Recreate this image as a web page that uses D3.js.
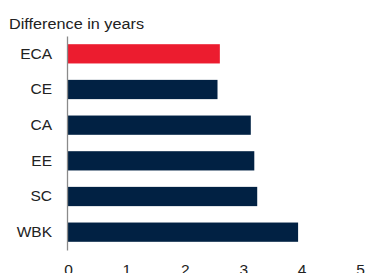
<!DOCTYPE html>
<html>
<head>
<meta charset="utf-8">
<script src="https://cdn.jsdelivr.net/npm/d3@7"></script>
<style>
  body { margin: 0; background: #fff; }
  svg { display: block; font-family: "Liberation Sans", Arial, sans-serif; }
</style>
</head>
<body>
<div id="chart"></div>
<script>
// data
const regions = ["ECA", "CE", "CA", "EE", "SC", "WBK"];
const diffYears = [2.6, 2.56, 3.13, 3.19, 3.24, 3.94];
const xTicks = [0, 1, 2, 3, 4, 5];

const width = 365,
  height = 273,
  margin = { top: 36, bottom: 23, left: 68, right: 5 };

const svg = d3.select("#chart")
  .append("svg")
  .attr("width", width)
  .attr("height", height);

const xScale = d3.scaleLinear()
  .domain([0, 5])
  .range([margin.left, width - margin.right]);

const yScale = d3.scaleBand()
  .domain(regions)
  .range([margin.top, height - margin.bottom])
  .paddingInner(0.46)
  .paddingOuter(0.23);

// title (squeezed a bit like the original)
svg.append("text")
  .attr("x", 9)
  .attr("y", 28.5)
  .attr("font-size", 15.5)
  .attr("textLength", 135)
  .attr("lengthAdjust", "spacingAndGlyphs")
  .attr("fill", "#222")
  .text("Difference in years");

// bars
svg.selectAll(".bar")
  .data(regions)
  .join("rect")
  .attr("class", "bar")
  .attr("x", xScale(0) - 0.5)
  .attr("y", d => yScale(d))
  .attr("height", yScale.bandwidth())
  .attr("width", (d, i) => xScale(diffYears[i]) - xScale(0) + 0.5)
  .attr("fill", d => d === "ECA" ? "#ec1c2f" : "#012143");

// y axis: just the line and labels
const yAxis = d3.axisLeft(yScale).tickSize(0).tickPadding(15);
const yG = svg.append("g")
  .attr("transform", `translate(${margin.left - 1},0)`)
  .call(yAxis);
yG.select(".domain").attr("stroke", "#8a8a8a").attr("stroke-width", 1.3);
yG.selectAll("text")
  .attr("font-size", 15.5)
  .attr("font-family", "Liberation Sans, Arial, sans-serif")
  .attr("fill", "#222");

// x axis labels, no line
const xAxis = d3.axisBottom(xScale)
  .tickValues(xTicks)
  .tickFormat(d3.format("d"))
  .tickSize(0)
  .tickPadding(14);
const xG = svg.append("g")
  .attr("transform", `translate(0,${height - margin.bottom})`)
  .call(xAxis);
xG.select(".domain").remove();
xG.selectAll("text")
  .attr("font-size", 15.5)
  .attr("font-family", "Liberation Sans, Arial, sans-serif")
  .attr("fill", "#222");
</script>
</body>
</html>
